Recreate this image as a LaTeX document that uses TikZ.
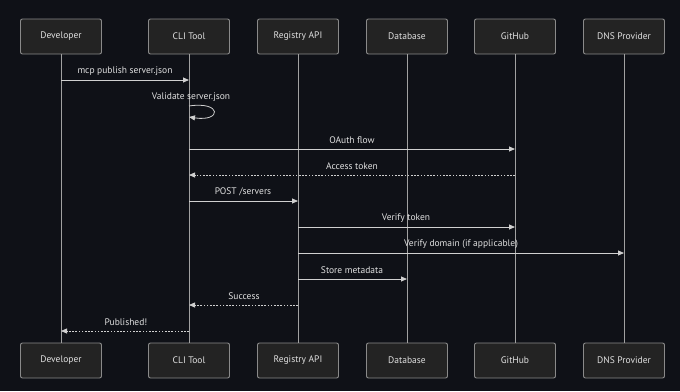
\documentclass[tikz,border=0pt]{standalone}
\usepackage{fontspec}
\setmainfont{PT Sans}
\usetikzlibrary{arrows.meta}
\definecolor{bg}{HTML}{0F1117}
\definecolor{boxfill}{HTML}{232323}
\definecolor{boxline}{HTML}{8A8A8A}
\definecolor{msgline}{HTML}{D0D0D0}
\definecolor{txt}{HTML}{E0E0E0}
\tikzset{
  actor/.style={draw=boxline, fill=boxfill, line width=0.9pt, rounded corners=2pt,
    minimum width=81pt, minimum height=35pt, text=txt, font=\fontsize{9.5}{11}\selectfont, inner sep=0pt},
  life/.style={draw=boxline!80!white, line width=0.9pt},
  msg/.style={draw=msgline, line width=0.8pt, -{Triangle[length=6pt,width=5pt]}},
  reply/.style={msg, dash pattern=on 1.6pt off 1.6pt},
  lbl/.style={text=txt, font=\fontsize{9.5}{11}\selectfont, inner sep=0pt}
}
\begin{document}
\begin{tikzpicture}[x=1pt,y=-1pt]
\fill[bg] (0,0) rectangle (680,391);
\useasboundingbox (0,0) rectangle (680,391);
% top actors
\node[actor] (devT) at (61,36.5) {Developer};
\node[actor] (cliT) at (189,36.5) {CLI Tool};
\node[actor] (regT) at (298,36.5) {Registry API};
\node[actor] (dbT)  at (407,36.5) {Database};
\node[actor] (ghT)  at (515,36.5) {GitHub};
\node[actor] (dnsT) at (624,36.5) {DNS Provider};
% bottom actors
\node[actor] (devB) at (61,360.5) {Developer};
\node[actor] (cliB) at (189,360.5) {CLI Tool};
\node[actor] (regB) at (298,360.5) {Registry API};
\node[actor] (dbB)  at (407,360.5) {Database};
\node[actor] (ghB)  at (515,360.5) {GitHub};
\node[actor] (dnsB) at (624,360.5) {DNS Provider};
% lifelines
\foreach \a in {dev,cli,reg,db,gh,dns}
  \draw[life] (\a T.south) -- (\a B.north);
% messages
\draw[msg] (devT |- 0,80) -- (cliT |- 0,80);
\node[lbl] (m1) at (125,71) {mcp publish server.json};
\node[lbl] (m2) at (191,97) {Validate server.json};
\coordinate (selfA) at (cliT |- 0,106);
\coordinate (selfB) at (cliT |- 0,117);
\draw[msg] (selfA) .. controls (222,101) and (222,122) .. (selfB);
\draw[msg] (cliT |- 0,149) -- (ghT |- 0,149);
\node[lbl] (m3) at (352,140) {OAuth flow};
\draw[reply] (ghT |- 0,175) -- (cliT |- 0,175);
\node[lbl] (m4) at (352,166) {Access token};
\draw[msg] (cliT |- 0,201) -- (regT |- 0,201);
\node[lbl] (m5) at (243,192) {POST /servers};
\draw[msg] (regT |- 0,227) -- (ghT |- 0,227);
\node[lbl] (m6) at (406,218) {Verify token};
\draw[msg] (regT |- 0,253) -- (dnsT |- 0,253);
\node[lbl] (m7) at (461,244) {Verify domain (if applicable)};
\draw[msg] (regT |- 0,279) -- (dbT |- 0,279);
\node[lbl] (m8) at (352,270) {Store metadata};
\draw[reply] (regT |- 0,305) -- (cliT |- 0,305);
\node[lbl] (m9) at (244,296) {Success};
\draw[reply] (cliT |- 0,331) -- (devT |- 0,331);
\node[lbl] (m10) at (126,322) {Published!};
\end{tikzpicture}
\end{document}
